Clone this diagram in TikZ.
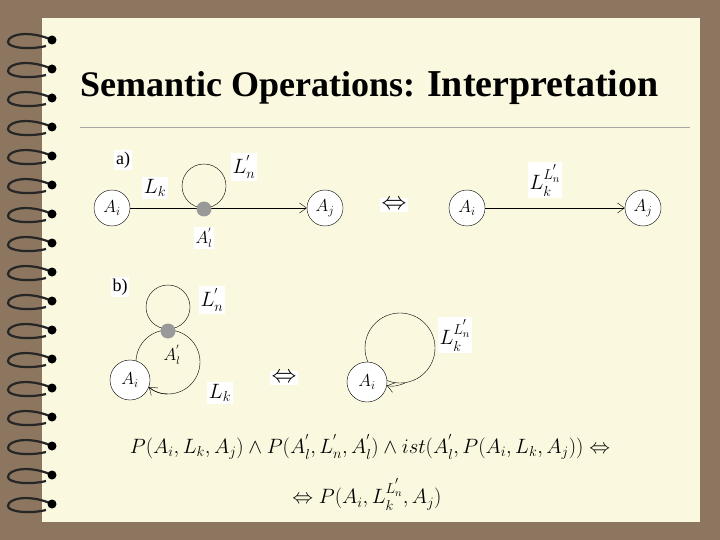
\documentclass[tikz,border=0pt]{standalone}
\usepackage{fontspec}
\setmainfont{Liberation Serif}
\usepackage{amsmath}
\usetikzlibrary{arrows.meta}
\definecolor{frame}{HTML}{8C7660}
\definecolor{page}{HTML}{FBF8E0}
\begin{document}
\begin{tikzpicture}[x=1pt,y=-1pt,
  st/.style={circle,draw,fill=white,minimum size=36pt,inner sep=0pt,font=\fontsize{17}{17}\selectfont},
  lbl/.style={fill=white,inner sep=2pt,font=\fontsize{21}{21}\selectfont},
  dotn/.style={circle,fill=gray!80,minimum size=15pt,inner sep=0pt},
  arr/.style={-{Straight Barb[length=7pt,width=10pt]}},
  ring/.style={line width=2.2pt,draw=black!85}]
\useasboundingbox (0,0) rectangle (720,540);
\fill[frame] (0,0) rectangle (720,540);
\fill[page] (42,18) rectangle (700,522);
% spiral rings
\foreach \y in {40,69,98,127,156,185,214,243,272,301,330,359,388,417,446,475,504}{
  \draw[ring] (52,\y) .. controls (30,\y-10) and (8,\y-6) .. (8,\y+2) .. controls (8,\y+8) and (30,\y+10) .. (46,\y+6);
  \fill (52,\y) circle (4.5pt);
}
% title
\node[anchor=west,inner sep=0] (title) at (80,87) {\fontsize{36}{36}\selectfont\bfseries Semantic Operations: \fontsize{38}{38}\selectfont Interpretation};
\draw[gray!70] (80,127) -- (690,127);
% a)
\node[lbl,font=\fontsize{18}{18}\selectfont\rmfamily] (la) at (123,160) {a)};
\node[st] (ai1) at (112,208) {$A_i$};
\node[st] (aj1) at (325,208) {$A_j$};
\node[circle,draw,minimum size=44pt] (loop1) at (204,186) {};
\draw[arr] (ai1) -- (aj1);
\node[dotn] (d1) at (204,209) {};
\node[lbl] (lk1) at (155,188) {$L_k$};
\node[lbl] (ln1) at (244,167) {$L_n^{'}$};
\node[lbl,font=\fontsize{16}{16}\selectfont] (al1) at (204,238) {$A_l^{'}$};
\node[lbl,font=\fontsize{26}{26}\selectfont] (eq1) at (394,205) {$\Leftrightarrow$};
\node[st] (ai2) at (467,208) {$A_i$};
\node[st] (aj2) at (643,208) {$A_j$};
\draw[arr] (ai2) -- (aj2);
\node[lbl] (lab2) at (545,180) {$L_k^{L_n^{'}}$};
% b)
\node[lbl,font=\fontsize{18}{18}\selectfont\rmfamily] (lb) at (120,287) {b)};
\node[circle,draw,minimum size=44pt] (loop2) at (168,307) {};
\node[circle,draw,minimum size=64pt] (big2) at (168,362) {};
\node[st,minimum size=40pt] (ai3) at (130,380) {$A_i$};
\draw[arr] (168,394) .. controls (162,394) and (156,393) .. (ai3.-20);
\node[dotn] (d2) at (168,331) {};
\node[inner sep=0pt,font=\fontsize{16}{16}\selectfont] (al2) at (172,355) {$A_l^{'}$};
\node[lbl] (ln2) at (212,300) {$L_n^{'}$};
\node[lbl] (lk2) at (220,393) {$L_k$};
\node[lbl,font=\fontsize{26}{26}\selectfont] (eq2) at (284,378) {$\Leftrightarrow$};
\node[circle,draw,minimum size=70pt] (big3) at (400,348) {};
\node[st,minimum size=40pt] (ai4) at (367,382) {$A_i$};
\draw[arr] (405,383) .. controls (398,386) and (392,387) .. (ai4.-10);
\node[lbl] (lab4) at (455,335) {$L_k^{L_n^{'}}$};
% formula
\node[font=\fontsize{21}{21}\selectfont] (f1) at (370,447) {$P(A_i,L_k,A_j)\wedge P(A_l^{'},L_n^{'},A_l^{'})\wedge ist(A_l^{'},P(A_i,L_k,A_j))\Leftrightarrow$};
\node[font=\fontsize{21}{21}\selectfont] (f2) at (367,494) {$\Leftrightarrow P(A_i,L_k^{L_n^{'}},A_j)$};
\end{tikzpicture}
\end{document}
